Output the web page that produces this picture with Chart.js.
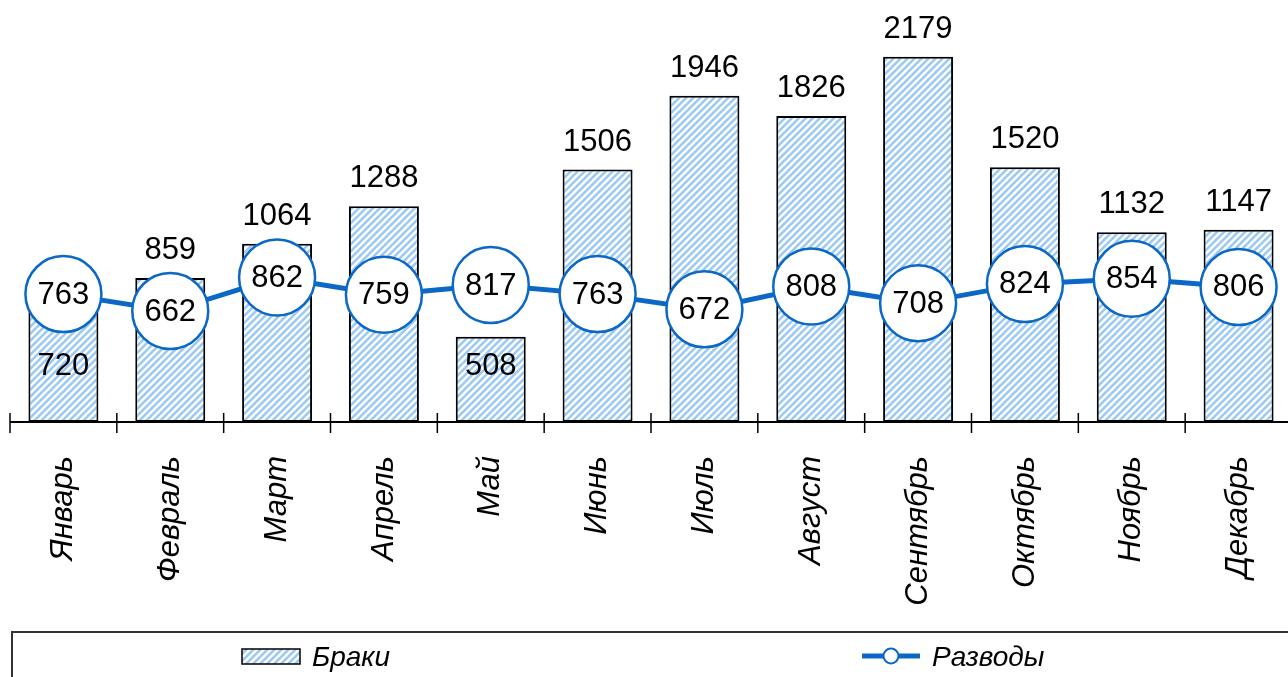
<!DOCTYPE html>
<html>
<head>
<meta charset="utf-8">
<script src="https://cdn.jsdelivr.net/npm/chart.js@4/dist/chart.umd.min.js"></script>
<style>
html,body{margin:0;padding:0;background:#fff;overflow:hidden;}
#wrap{position:relative;width:1292px;height:677px;}
canvas{display:block;}
</style>
</head>
<body>
<div id="wrap"><canvas id="c" width="1292" height="677"></canvas></div>
<script>
const categories = ['Январь','Февраль','Март','Апрель','Май','Июнь','Июль','Август','Сентябрь','Октябрь','Ноябрь','Декабрь'];
const marriages = [720, 859, 1064, 1288, 508, 1506, 1946, 1826, 2179, 1520, 1132, 1147];
const divorces = [763, 662, 862, 759, 817, 763, 672, 808, 708, 824, 854, 806];
const seriesNames = ['Браки', 'Разводы'];
const insideLabelMonths = ['Январь', 'Май'];

const FONT = "'Liberation Sans', Arial, sans-serif";
const BLUE = '#0b68c6';

function makePattern() {
  const p = document.createElement('canvas');
  p.width = 7; p.height = 7;
  const g = p.getContext('2d');
  g.fillStyle = '#ffffff';
  g.fillRect(0, 0, 7, 7);
  g.strokeStyle = '#9ccaf3';
  g.lineWidth = 2.6;
  for (let k = -1; k <= 1; k++) {
    g.beginPath();
    g.moveTo(k * 7 - 1, 8);
    g.lineTo(k * 7 + 8, -1);
    g.stroke();
  }
  return document.getElementById('c').getContext('2d').createPattern(p, 'repeat');
}
const pattern = makePattern();

const labelsPlugin = {
  id: 'labelsPlugin',
  afterDatasetsDraw(chart) {
    const ctx = chart.ctx;
    const y = chart.scales.y;
    ctx.save();
    ctx.font = '31px ' + FONT;
    ctx.fillStyle = '#000';
    ctx.textAlign = 'center';
    const barMeta = chart.getDatasetMeta(0);
    barMeta.data.forEach((bar, i) => {
      if (insideLabelMonths.includes(categories[i])) {
        ctx.textBaseline = 'middle';
        ctx.fillText(String(marriages[i]), bar.x, y.getPixelForValue(330));
      } else {
        ctx.textBaseline = 'alphabetic';
        ctx.fillText(String(marriages[i]), bar.x, bar.y - 19);
      }
    });
    const lineMeta = chart.getDatasetMeta(1);
    ctx.textBaseline = 'middle';
    lineMeta.data.forEach((pt, i) => {
      ctx.fillText(String(divorces[i]), pt.x, pt.y + 1);
    });
    ctx.restore();
  },
  afterDraw(chart) {
    const ctx = chart.ctx;
    const a = chart.chartArea;
    ctx.save();
    ctx.strokeStyle = '#000';
    ctx.lineWidth = 2;
    ctx.beginPath();
    ctx.moveTo(a.left, a.bottom);
    ctx.lineTo(a.right, a.bottom);
    ctx.stroke();
    ctx.lineWidth = 1.5;
    const n = categories.length;
    for (let i = 0; i <= n; i++) {
      const x = a.left + (a.right - a.left) * i / n;
      ctx.beginPath();
      ctx.moveTo(x, a.bottom - 9);
      ctx.lineTo(x, a.bottom + 11);
      ctx.stroke();
    }
    ctx.strokeStyle = '#333';
    ctx.lineWidth = 2;
    ctx.strokeRect(12, 632, 1400, 100);
    ctx.fillStyle = pattern;
    ctx.fillRect(242, 649, 58, 15);
    ctx.strokeStyle = '#000';
    ctx.lineWidth = 1.5;
    ctx.strokeRect(242, 649, 58, 15);
    ctx.font = 'italic 28px ' + FONT;
    ctx.fillStyle = '#000';
    ctx.textAlign = 'left';
    ctx.textBaseline = 'alphabetic';
    ctx.fillText(seriesNames[0], 312, 666);
    ctx.strokeStyle = BLUE;
    ctx.lineWidth = 5;
    ctx.beginPath();
    ctx.moveTo(862, 656);
    ctx.lineTo(920, 656);
    ctx.stroke();
    ctx.beginPath();
    ctx.arc(891, 656, 7.5, 0, Math.PI * 2);
    ctx.fillStyle = '#fff';
    ctx.fill();
    ctx.lineWidth = 2;
    ctx.stroke();
    ctx.fillStyle = '#000';
    ctx.fillText(seriesNames[1], 932, 666);
    ctx.restore();
  }
};

new Chart(document.getElementById('c'), {
  type: 'bar',
  data: {
    labels: categories,
    datasets: [
      {
        type: 'bar',
        label: seriesNames[0],
        data: marriages,
        backgroundColor: pattern,
        borderColor: '#000',
        borderWidth: 2,
        borderSkipped: false,
        barPercentage: 0.655,
        categoryPercentage: 1,
        order: 2
      },
      {
        type: 'line',
        label: seriesNames[1],
        data: divorces,
        borderColor: BLUE,
        borderWidth: 5,
        pointRadius: 38,
        pointHoverRadius: 38,
        pointBackgroundColor: '#fff',
        pointBorderColor: BLUE,
        pointBorderWidth: 2.5,
        tension: 0,
        clip: false,
        order: 1
      }
    ]
  },
  options: {
    responsive: false,
    animation: false,
    devicePixelRatio: 1,
    events: [],
    layout: { autoPadding: false, padding: { left: 10, right: 0, top: 3, bottom: 0 } },
    plugins: { legend: { display: false }, tooltip: { enabled: false } },
    scales: {
      x: {
        grid: { display: false },
        border: { display: false },
        ticks: {
          minRotation: 90,
          maxRotation: 90,
          autoSkip: false,
          padding: 26,
          color: '#000',
          font: { family: FONT, size: 31, style: 'italic' }
        },
        afterFit(scale) { scale.height = 255; scale.paddingLeft = 0; scale.paddingRight = 0; }
      },
      y: {
        display: false,
        min: 0,
        max: 2500
      }
    }
  },
  plugins: [labelsPlugin]
});
</script>
</body>
</html>
